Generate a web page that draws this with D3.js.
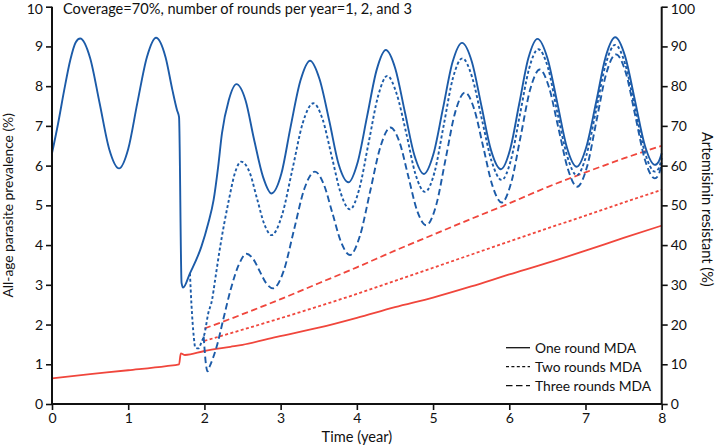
<!DOCTYPE html>
<html><head><meta charset="utf-8">
<script src="https://cdn.jsdelivr.net/npm/d3@7"></script>
<style>
body{margin:0;background:#fff;}
text{font-family:Lato,"Open Sans",sans-serif;fill:#111;}
</style></head>
<body><svg id="c" width="715" height="446"></svg>
<script>
// ---- data ----
const title = "Coverage=70%, number of rounds per year=1, 2, and 3";
const xTicks = [0,1,2,3,4,5,6,7,8];
const yLeftTicks = [0,1,2,3,4,5,6,7,8,9,10];
const yRightTicks = [0,10,20,30,40,50,60,70,80,90,100];
const legendLabels = ["One round MDA","Two rounds MDA","Three rounds MDA"];

// prevalence (%) one round MDA [year, value]
const prevOne = [[0,6.31],[0.08,7.06],[0.16,7.9],[0.24,8.66],[0.31,9.1],[0.37,9.2],[0.5,8.71],[0.625,7.57],[0.75,6.42],[0.88,5.93],
[1.0,6.42],[1.12,7.58],[1.245,8.73],[1.365,9.22],[1.49,8.73],[1.58,7.9],[1.64,7.4],[1.667,7.22],[1.70,3.05],[1.72,2.93],[1.81,3.29],
[1.96,3.96],[2.05,4.55],[2.12,5.13],[2.18,5.97],[2.23,6.81],[2.32,7.65],[2.42,8.05],[2.54,7.64],[2.65,6.67],[2.77,5.71],[2.88,5.30],
[3.01,5.80],[3.13,6.97],[3.26,8.14],[3.386,8.64],[3.51,8.18],[3.64,7.11],[3.76,6.04],[3.89,5.58],
[4.01,6.08],[4.135,7.245],[4.26,8.41],[4.38,8.91],[4.505,8.44],[4.63,7.35],[4.755,6.26],[4.88,5.79],
[5.005,6.29],[5.13,7.44],[5.255,8.60],[5.38,9.09],[5.51,8.61],[5.635,7.50],[5.76,6.39],[5.89,5.91],
[6.01,6.40],[6.13,7.55],[6.25,8.70],[6.37,9.19],[6.50,8.71],[6.63,7.58],[6.757,6.45],[6.886,5.97],
[7.01,6.46],[7.14,7.60],[7.265,8.74],[7.39,9.23],[7.52,8.75],[7.65,7.63],[7.78,6.50],[7.91,6.02],[7.96,6.1],[8.0,6.31]];

// prevalence (%) two rounds MDA
const prevTwo = [[1.81,3.29],[1.83,2.5],[1.86,1.7],[1.88,1.42],[1.92,1.40],[1.96,1.55],[2.0,1.76],[2.05,2.28],[2.10,2.62],[2.14,3.12],
[2.20,3.88],[2.32,5.13],[2.40,5.81],[2.48,6.10],[2.595,5.82],[2.69,5.17],[2.785,4.53],[2.88,4.25],
[3.0175,4.75],[3.155,5.91],[3.29,7.07],[3.43,7.57],[3.55,7.17],[3.67,6.235],[3.79,5.30],[3.91,4.90],
[4.03,5.40],[4.155,6.58],[4.28,7.76],[4.40,8.26],[4.52,7.82],[4.65,6.80],[4.77,5.78],[4.895,5.34],
[5.02,5.84],[5.14,7.02],[5.26,8.20],[5.385,8.70],[5.51,8.24],[5.64,7.17],[5.77,6.10],[5.90,5.64],
[6.02,6.13],[6.14,7.285],[6.26,8.44],[6.38,8.93],[6.51,8.45],[6.63,7.345],[6.76,6.24],[6.886,5.76],
[7.01,6.25],[7.14,7.40],[7.265,8.55],[7.39,9.04],[7.52,8.56],[7.65,7.445],[7.78,6.33],[7.91,5.85],[7.96,5.93],[8.0,6.19]];

// prevalence (%) three rounds MDA
const prevThree = [[1.99,1.70],[2.02,1.0],[2.04,0.82],[2.07,0.95],[2.16,1.44],[2.25,2.15],[2.34,2.85],[2.45,3.5],[2.55,3.78],
[2.64,3.65],[2.725,3.345],[2.81,3.04],[2.90,2.91],[3.04,3.35],[3.175,4.38],[3.31,5.41],[3.45,5.85],
[3.565,5.535],[3.68,4.80],[3.795,4.065],[3.91,3.75],[4.04,4.23],[4.175,5.355],[4.31,6.48],[4.44,6.96],
[4.56,6.59],[4.675,5.73],[4.79,4.87],[4.91,4.50],[5.04,5.00],[5.165,6.17],[5.29,7.34],[5.42,7.84],
[5.54,7.42],[5.66,6.455],[5.78,5.49],[5.90,5.07],[6.025,5.57],[6.15,6.745],[6.275,7.92],[6.40,8.42],
[6.52,7.98],[6.645,6.945],[6.77,5.91],[6.89,5.47],[7.02,5.97],[7.145,7.135],[7.27,8.30],[7.40,8.80],
[7.53,8.33],[7.655,7.24],[7.78,6.15],[7.91,5.68],[7.96,5.77],[8.0,6.07]];

// artemisinin resistant (%)
const resOne = [[0,6.47],[0.5,7.5],[1.0,8.5],[1.5,9.55],[1.667,9.99],[1.69,12.76],[1.745,12.33],[2.0,13.34],[2.34,14.4],[2.5,14.9],
[2.95,16.9],[3.5,19.2],[4.0,21.7],[4.5,24.4],[5.0,26.8],[5.5,29.6],[6.0,32.6],[6.5,35.5],[7.0,38.6],[7.5,41.8],[8.0,44.9]];
const resTwo = [[2.0,15.9],[2.5,18.7],[3.0,21.6],[3.5,24.6],[4.0,27.7],[4.5,31.0],[5.0,34.3],[5.5,37.6],[6.0,40.9],[6.5,44.2],[7.0,47.4],[7.5,50.7],[8.0,53.9]];
const resThree = [[2.0,19.0],[2.5,22.6],[3.0,26.4],[3.5,30.4],[4.0,34.4],[4.5,38.6],[5.0,42.6],[5.5,46.6],[6.0,50.5],[6.5,54.6],[7.0,58.3],[7.5,61.8],[8.0,65.0]];

// ---- drawing ----
const svg = d3.select("#c");
const m = {l:52, r:53.3, t:6.7, b:42};
const W = 715, H = 446;
const x = d3.scaleLinear().domain([0,8]).range([m.l, W-m.r]);
const yL = d3.scaleLinear().domain([0,10]).range([H-m.b, m.t]);
const yR = d3.scaleLinear().domain([0,100]).range([H-m.b, m.t]);

const blue = "#1c5ba8", red = "#f0463c";
const dashes = [null, "3,2.4", "6.5,3.5"];

const lineL = d3.line().x(d=>x(d[0])).y(d=>yL(d[1])).curve(d3.curveMonotoneX);
const lineR = d3.line().x(d=>x(d[0])).y(d=>yR(d[1])).curve(d3.curveMonotoneX);

const g = svg.append("g");
[resOne,resTwo,resThree].forEach((s,i)=>{
  g.append("path").attr("d",lineR(s)).attr("fill","none").attr("stroke",red)
   .attr("stroke-width",1.8).attr("stroke-dasharray",dashes[i]);
});
[prevOne,prevTwo,prevThree].forEach((s,i)=>{
  g.append("path").attr("d",lineL(s)).attr("fill","none").attr("stroke",blue)
   .attr("stroke-width",1.9).attr("stroke-dasharray",dashes[i]);
});

// axes
const fs = "14px";
const ax = svg.append("g").attr("transform",`translate(0,${H-m.b})`)
  .call(d3.axisBottom(x).tickValues(xTicks).tickSize(6).tickPadding(3).tickFormat(d3.format("d")));
const al = svg.append("g").attr("transform",`translate(${m.l},0)`)
  .call(d3.axisLeft(yL).tickValues(yLeftTicks).tickSize(6).tickPadding(3).tickFormat(d3.format("d")));
const ar = svg.append("g").attr("transform",`translate(${W-m.r},0)`)
  .call(d3.axisRight(yR).tickValues(yRightTicks).tickSize(6).tickPadding(3).tickFormat(d3.format("d")));
[ax,al,ar].forEach(a=>{
  a.select(".domain").attr("stroke","#111").attr("stroke-width",2);
  a.selectAll(".tick line").attr("stroke","#111").attr("stroke-width",1.6);
  a.selectAll(".tick text").style("font-family","Lato, sans-serif").style("font-size",fs).attr("fill","#111");
});
ax.select(".domain").attr("d",`M${m.l},0H${W-m.r}`);
al.select(".domain").attr("d",`M0,${H-m.b}V${m.t}`);
ar.select(".domain").attr("d",`M0,${H-m.b}V${m.t}`);
// keep the topmost tick labels inside the picture
al.selectAll(".tick text").filter(d=>d===10).attr("y",2.5);
ar.selectAll(".tick text").filter(d=>d===100).attr("y",2.5);

// labels
svg.append("text").attr("x",63).attr("y",14).style("font-size","14.6px").text(title);
svg.append("text").attr("x",(m.l+W-m.r)/2).attr("y",442).attr("text-anchor","middle").style("font-size","14.6px").text("Time (year)");
svg.append("text").attr("transform",`translate(13,${(m.t+H-m.b)/2}) rotate(-90)`).attr("text-anchor","middle").style("font-size","13.8px").text("All-age parasite prevalence (%)");
svg.append("text").attr("transform",`translate(702,${(m.t+H-m.b)/2 + 4}) rotate(90)`).attr("text-anchor","middle").style("font-size","14.6px").text("Artemisinin resistant (%)");

// legend
const lg = svg.append("g");
legendLabels.forEach((t,i)=>{
  const yy = 347.7 + i*19;
  lg.append("line").attr("x1",506).attr("x2",530).attr("y1",yy).attr("y2",yy)
    .attr("stroke","#111").attr("stroke-width",1.3).attr("stroke-dasharray",dashes[i]);
  lg.append("text").attr("x",535).attr("y",yy+4.8).style("font-size","13.8px").text(t);
});
</script></body></html>
